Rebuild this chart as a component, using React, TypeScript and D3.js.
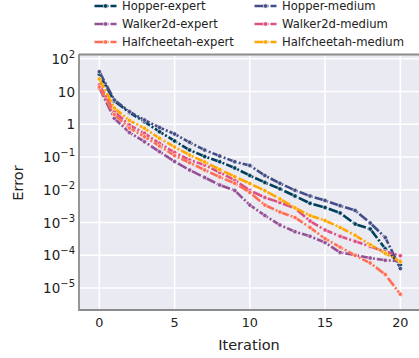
import React from 'react';
import * as d3 from 'd3';

const iterations = [0, 1, 2, 3, 4, 5, 6, 7, 8, 9, 10, 11, 12, 13, 14, 15, 16, 17, 18, 19, 20];

const hopperExpert = [34, 5.1, 2.3, 1.2, 0.594, 0.31, 0.164, 0.104, 0.0721, 0.0463, 0.0273, 0.0167, 0.0107, 0.00647, 0.00387, 0.00288, 0.00196, 0.000903, 0.000636, 0.000158, 5.2e-5];
const hopperMedium = [40.4, 5.52, 2.43, 1.35, 0.8, 0.506, 0.282, 0.164, 0.108, 0.0721, 0.0552, 0.0273, 0.0158, 0.00966, 0.00647, 0.00471, 0.00327, 0.00233, 0.000969, 0.00035, 3.95e-5];
const walkerExpert = [12.8, 1.52, 0.562, 0.294, 0.146, 0.0731, 0.0402, 0.0238, 0.014, 0.00952, 0.00343, 0.00164, 0.000842, 0.000526, 0.00038, 0.000246, 0.000122, 0.000102, 8.27e-5, 7.03e-5, 6.7e-5];
const walkerMedium = [15.9, 2.43, 0.95, 0.531, 0.263, 0.138, 0.0813, 0.0572, 0.0338, 0.0199, 0.00952, 0.00582, 0.00409, 0.00272, 0.00111, 0.000593, 0.00038, 0.000267, 0.000186, 0.000129, 9.66e-5];
const cheetahExpert = [13.8, 1.99, 0.771, 0.418, 0.217, 0.111, 0.0672, 0.0402, 0.0246, 0.0158, 0.00828, 0.00343, 0.0021, 0.00143, 0.000706, 0.000321, 0.000177, 9.86e-5, 5.82e-5, 2.59e-5, 6.5e-6];
const cheetahMedium = [24.2, 3.15, 1.32, 0.755, 0.374, 0.203, 0.1155, 0.0706, 0.0417, 0.0251, 0.0156, 0.0094, 0.00524, 0.00282, 0.00164, 0.001156, 0.000706, 0.000408, 0.000211, 0.000115, 6.38e-5];

const seriesNames = ['Hopper-expert', 'Hopper-medium', 'Walker2d-expert', 'Walker2d-medium', 'Halfcheetah-expert', 'Halfcheetah-medium'];
const seriesValues = [hopperExpert, hopperMedium, walkerExpert, walkerMedium, cheetahExpert, cheetahMedium];
const seriesColors = ['#003f5c', '#444e86', '#955196', '#dd5182', '#ff6e54', '#ffa600'];

const yTickExps = [2, 1, 0, -1, -2, -3, -4, -5];
const xTicks = [0, 5, 10, 15, 20];

const FONT = 'DejaVu Sans, Verdana, sans-serif';
const DASH = '10,2,2,2';

function tickLabel(e: number) {
  if (e === 0) return { base: '1', sup: '' };
  if (e === 1) return { base: '10', sup: '' };
  return { base: '10', sup: e < 0 ? '\u2212' + Math.abs(e) : String(e) };
}

export default function App() {
  const W = 419, H = 358;
  const left = 79, right = 422, top = 55, bottom = 310;
  const x = d3.scaleLinear().domain([-1.35, 21.44]).range([left, right]);
  const y = d3.scaleLog().domain([Math.pow(10, -5.67), Math.pow(10, 2.116)]).range([bottom, top]);
  const line = d3.line<number>().x((_, i) => x(iterations[i])).y((d) => y(d));

  const legendCols = [
    { sx: 94.5, tx: 122 },
    { sx: 254.5, tx: 282 },
  ];
  const legendRows = [6, 24, 42];

  return (
    <div style={{ position: 'fixed', left: 0, top: 0 }}>
      <svg width={W} height={H} style={{ display: 'block', background: '#fff' }} fontFamily={FONT}>
        <defs>
          <clipPath id="plotclip">
            <rect x={left} y={top} width={right - left} height={bottom - top} />
          </clipPath>
        </defs>
        <rect x={left} y={top} width={right - left} height={bottom - top} fill="#eaeaf2" />
        {xTicks.map((t) => (
          <line key={'gx' + t} x1={x(t)} x2={x(t)} y1={top} y2={bottom} stroke="#fff" strokeWidth={1.6} />
        ))}
        {yTickExps.map((e) => (
          <line key={'gy' + e} x1={left} x2={right} y1={y(Math.pow(10, e))} y2={y(Math.pow(10, e))} stroke="#fff" strokeWidth={1.6} />
        ))}
        <g clipPath="url(#plotclip)">
          {seriesValues.map((vals, si) => (
            <g key={seriesNames[si]}>
              <path d={line(vals) || ''} fill="none" stroke={seriesColors[si]} strokeWidth={2.6} strokeDasharray={DASH} />
              {vals.map((v, i) => (
                <circle key={i} cx={x(iterations[i])} cy={y(v)} r={2.2} fill={seriesColors[si]} stroke="#fff" strokeWidth={0.6} />
              ))}
            </g>
          ))}
        </g>
        <line x1={left} x2={left} y1={top - 1} y2={bottom + 1} stroke="#8c8c8c" strokeWidth={1.8} />
        <line x1={left} x2={right} y1={bottom} y2={bottom} stroke="#8c8c8c" strokeWidth={1.8} />
        <line x1={left} x2={right} y1={top - 0.5} y2={top - 0.5} stroke="#8c8c8c" strokeWidth={1.8} />
        {yTickExps.map((e) => {
          const lab = tickLabel(e);
          return (
            <text key={'ty' + e} x={left - 4} y={y(Math.pow(10, e)) + 5} textAnchor="end" fontSize={13.5} fill="#222">
              <tspan>{lab.base}</tspan>
              {lab.sup && (
                <tspan fontSize={10} dy={-6}>{lab.sup}</tspan>
              )}
            </text>
          );
        })}
        {xTicks.map((t) => (
          <text key={'tx' + t} x={x(t)} y={326.5} textAnchor="middle" fontSize={12.8} fill="#222">{t}</text>
        ))}
        <text x={249} y={350} textAnchor="middle" fontSize={14.5} fill="#222">Iteration</text>
        <text transform="translate(23,183) rotate(-90)" textAnchor="middle" fontSize={14.5} fill="#222">Error</text>
        {seriesNames.map((name, si) => {
          const col = legendCols[si % 2];
          const ry = legendRows[Math.floor(si / 2)];
          return (
            <g key={'lg' + name}>
              <line x1={col.sx} x2={col.sx + 22} y1={ry} y2={ry} stroke={seriesColors[si]} strokeWidth={2.6} strokeDasharray={DASH} />
              <circle cx={col.sx + 11} cy={ry} r={2.2} fill={seriesColors[si]} stroke="#fff" strokeWidth={0.6} />
              <text x={col.tx} y={ry + 4} fontSize={11.6} fill="#222">{name}</text>
            </g>
          );
        })}
      </svg>
    </div>
  );
}
